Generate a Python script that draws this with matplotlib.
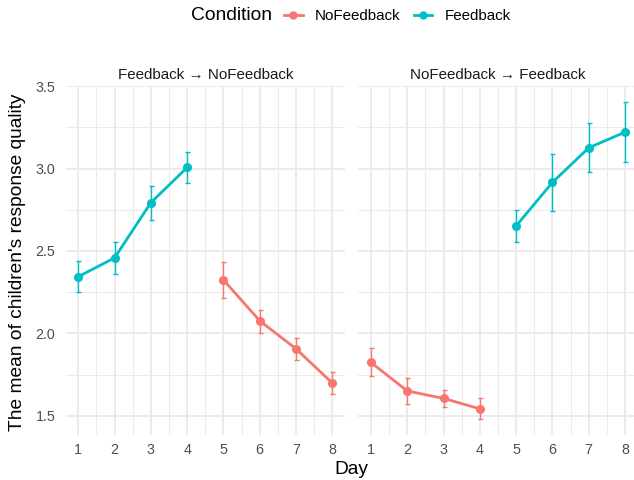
import matplotlib
matplotlib.use("Agg")
import matplotlib.pyplot as plt
from matplotlib.lines import Line2D

plt.rcParams['font.family'] = ['Liberation Sans', 'DejaVu Sans']

days = [1, 2, 3, 4, 5, 6, 7, 8]
panels = ["Feedback \u2192 NoFeedback", "NoFeedback \u2192 Feedback"]

# Panel 1: Feedback days 1-4, NoFeedback days 5-8
p1_fb_days = [1, 2, 3, 4]
p1_fb_mean = [2.344, 2.458, 2.793, 3.007]
p1_fb_lo = [2.252, 2.359, 2.686, 2.912]
p1_fb_hi = [2.441, 2.556, 2.896, 3.102]
p1_nf_days = [5, 6, 7, 8]
p1_nf_mean = [2.324, 2.076, 1.906, 1.698]
p1_nf_lo = [2.215, 2.003, 1.841, 1.629]
p1_nf_hi = [2.433, 2.142, 1.969, 1.767]

# Panel 2: NoFeedback days 1-4, Feedback days 5-8
p2_nf_days = [1, 2, 3, 4]
p2_nf_mean = [1.823, 1.650, 1.605, 1.542]
p2_nf_lo = [1.738, 1.571, 1.553, 1.482]
p2_nf_hi = [1.908, 1.729, 1.656, 1.605]
p2_fb_days = [5, 6, 7, 8]
p2_fb_mean = [2.652, 2.916, 3.126, 3.221]
p2_fb_lo = [2.555, 2.744, 2.981, 3.039]
p2_fb_hi = [2.748, 3.088, 3.274, 3.405]

y_ticks = [1.5, 2.0, 2.5, 3.0, 3.5]
RED = "#F8766D"
TEAL = "#00BFC4"

W, H = 634, 480
fig = plt.figure(figsize=(W / 100, H / 100), dpi=100)

y_bot_px, y_top_px = 434.5, 86
ax_bottom = 1 - y_bot_px / H
ax_height = (y_bot_px - y_top_px) / H
ax1 = fig.add_axes([65.6 / W, ax_bottom, (345 - 65.6) / W, ax_height])
ax2 = fig.add_axes([358.3 / W, ax_bottom, (637.7 - 358.3) / W, ax_height])


def draw_series(ax, x, m, lo, hi, color):
    yerr = [[mm - l for mm, l in zip(m, lo)], [h - mm for mm, h in zip(m, hi)]]
    ax.errorbar(x, m, yerr=yerr, fmt='none', ecolor=color, elinewidth=1.0,
                capsize=1.8, capthick=1.0, zorder=3)
    ax.plot(x, m, color=color, lw=2.0, marker='o', ms=5.5, zorder=4,
            solid_capstyle='butt')


draw_series(ax1, p1_fb_days, p1_fb_mean, p1_fb_lo, p1_fb_hi, TEAL)
draw_series(ax1, p1_nf_days, p1_nf_mean, p1_nf_lo, p1_nf_hi, RED)
draw_series(ax2, p2_nf_days, p2_nf_mean, p2_nf_lo, p2_nf_hi, RED)
draw_series(ax2, p2_fb_days, p2_fb_mean, p2_fb_lo, p2_fb_hi, TEAL)

ylo = 1.482 - 0.05 * (3.405 - 1.482)
yhi = 3.405 + 0.05 * (3.405 - 1.482)
for i, ax in enumerate([ax1, ax2]):
    ax.set_xlim(1 - 0.35, 8 + 0.35)
    ax.set_ylim(ylo, yhi)
    ax.set_xticks(days)
    ax.set_xticks([d + 0.5 for d in days[:-1]], minor=True)
    ax.set_yticks(y_ticks)
    ax.set_yticks([1.75, 2.25, 2.75, 3.25], minor=True)
    ax.grid(True, which='major', color='#EBEBEB', lw=1.4, zorder=0)
    ax.grid(True, which='minor', color='#EBEBEB', lw=0.7, zorder=0)
    ax.set_axisbelow(True)
    for s in ax.spines.values():
        s.set_visible(False)
    ax.tick_params(which='both', length=0)
    ax.tick_params(axis='x', pad=6, labelsize=10.3, labelcolor='#4D4D4D')
    ax.tick_params(axis='y', pad=7.5, labelsize=10.3, labelcolor='#4D4D4D')
    if i == 1:
        ax.set_yticklabels([])
    ax.set_title(panels[i], fontsize=10.9, color='#1A1A1A', pad=5)

fig.text(18 / W, 1 - 262 / H, "The mean of children's response quality",
         rotation=90, ha='center', va='center', fontsize=13.8, color='black')
fig.text(351 / W, 1 - 469 / H, "Day", ha='center', va='center',
         fontsize=13.8, color='black')

# Legend
fig.text(191 / W, 1 - 16 / H, "Condition", ha='left', va='center',
         fontsize=13.9, color='black')
handles = [Line2D([], [], color=RED, lw=2.0, marker='o', ms=5),
           Line2D([], [], color=TEAL, lw=2.0, marker='o', ms=5)]
fig.legend(handles, ["NoFeedback", "Feedback"], ncol=2, loc='center left',
           bbox_to_anchor=(284 / W, 1 - 16 / H), frameon=False,
           fontsize=10.9, handlelength=1.25, handletextpad=0.8,
           columnspacing=0.85, borderpad=0, borderaxespad=0)

fig.savefig("out.png", dpi=100)
